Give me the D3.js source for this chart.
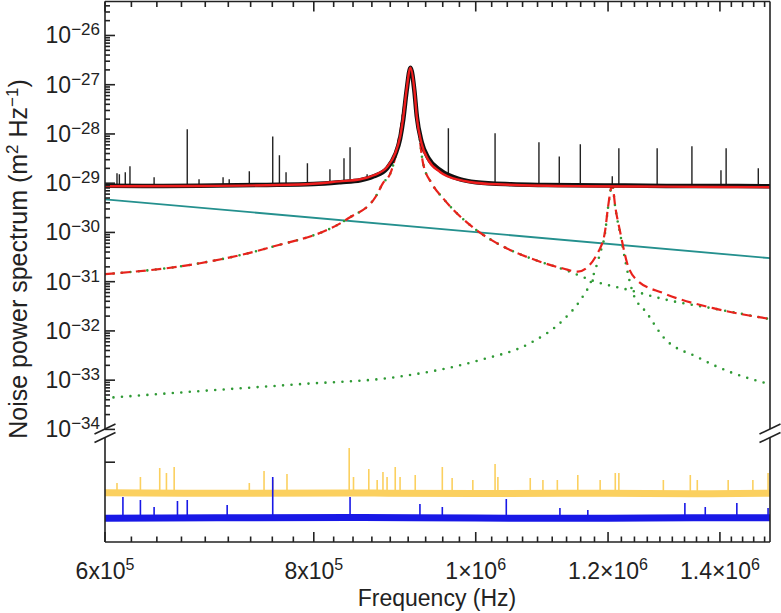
<!DOCTYPE html>
<html>
<head>
<meta charset="utf-8">
<script src="https://cdn.jsdelivr.net/npm/d3@7"></script>
<style>
  body { margin: 0; background: #fff; }
  svg { display: block; }
  text { font-family: "Liberation Sans", Arial, Helvetica, sans-serif; fill: #222; }
</style>
</head>
<body>
<svg id="chart" width="781" height="613"></svg>
<script>
// ---- data ----
// measured spectrum (black), smooth part
const measF = [6.0e5, 6.5e5, 7.0e5, 7.5e5, 8.0e5, 8.3e5, 8.53e5, 8.69e5, 8.85e5, 8.95e5, 9.01e5, 9.05e5, 9.09e5, 9.14e5, 9.19e5, 9.22e5, 9.28e5, 9.37e5, 9.52e5, 9.79e5, 1.0e6, 1.05e6, 1.1e6, 1.2e6, 1.3e6, 1.4e6, 1.5e6];
const measV = [8.9e-30, 8.8e-30, 9.0e-30, 9.2e-30, 9.6e-30, 1.05e-29, 1.15e-29, 1.38e-29, 2.0e-29, 3.8e-29, 8.0e-29, 2.0e-28, 7.2e-28, 2.2e-27, 7.4e-28, 2.3e-28, 7.0e-29, 3.2e-29, 1.85e-29, 1.2e-29, 1.05e-29, 9.5e-30, 9.2e-30, 9.0e-30, 8.8e-30, 8.8e-30, 8.7e-30];
// narrow peaks in the measured spectrum
const spikeF = [6.10e5, 6.12e5, 6.17e5, 6.21e5, 6.42e5, 6.72e5, 6.83e5, 7.06e5, 7.12e5, 7.32e5, 7.56e5, 7.63e5, 7.70e5, 7.93e5, 8.18e5, 8.34e5, 8.41e5, 8.61e5, 8.99e5, 9.55e5, 9.63e5, 1.027e6, 1.091e6, 1.122e6, 1.155e6, 1.207e6, 1.218e6, 1.284e6, 1.347e6, 1.402e6, 1.412e6, 1.476e6];
const spikeV = [1.59e-29, 1.52e-29, 1.66e-29, 2.2e-29, 1.32e-29, 1.24e-28, 1.2e-29, 1.32e-29, 1.2e-29, 1.74e-29, 8.9e-29, 3.7e-29, 1.66e-29, 2.54e-29, 1.91e-29, 3.2e-29, 5.35e-29, 1.52e-29, 8.5e-29, 1.74e-29, 1.3e-28, 1.03e-28, 6.8e-29, 3.5e-29, 6.2e-29, 1.38e-29, 5.1e-29, 5.1e-29, 5.6e-29, 1.83e-29, 5.1e-29, 2.0e-29];

// total fit (red solid)
const fitF = [6.0e5, 6.84e5, 7.85e5, 8.29e5, 8.53e5, 8.69e5, 8.85e5, 8.95e5, 9.01e5, 9.05e5, 9.09e5, 9.14e5, 9.19e5, 9.22e5, 9.28e5, 9.37e5, 9.52e5, 9.79e5, 9.92e5, 1.03e6, 1.155e6, 1.3e6, 1.5e6];
const fitV = [8.7e-30, 8.8e-30, 9.4e-30, 1.09e-29, 1.2e-29, 1.45e-29, 2.13e-29, 4.04e-29, 8.65e-29, 2.2e-28, 7.66e-28, 2.21e-27, 7.66e-28, 2.2e-28, 6.44e-29, 2.91e-29, 1.69e-29, 1.15e-29, 1.06e-29, 9.5e-30, 8.7e-30, 8.5e-30, 8.3e-30];

// mode 1 (green dotted)
const mode1F = [6.0e5, 6.84e5, 7.5e5, 8.39e5, 8.71e5, 8.80e5, 8.89e5, 8.97e5, 9.03e5, 9.09e5, 9.14e5, 9.19e5, 9.24e5, 9.30e5, 9.41e5, 9.56e5, 9.96e5, 1.03e6, 1.078e6, 1.128e6, 1.182e6, 1.237e6, 1.30e6, 1.387e6, 1.5e6];
const mode1V = [1.42e-31, 2.37e-31, 4.78e-31, 1.94e-30, 5.25e-30, 1.0e-29, 1.58e-29, 4.65e-29, 1.7e-28, 7.5e-28, 2.1e-27, 7.5e-28, 1.4e-28, 2.54e-29, 1.0e-29, 4.95e-30, 1.27e-30, 6.0e-31, 3.0e-31, 1.79e-31, 9.8e-32, 6.7e-32, 4.3e-32, 2.86e-32, 1.73e-32];

// mode 2 (green dotted)
const mode2F = [6.0e5, 6.84e5, 7.85e5, 8.97e5, 1.006e6, 1.078e6, 1.128e6, 1.155e6, 1.171e6, 1.187e6, 1.195e6, 1.200e6, 1.207e6, 1.212e6, 1.220e6, 1.242e6, 1.266e6, 1.295e6, 1.357e6, 1.420e6, 1.5e6];
const mode2V = [4.34e-34, 6.0e-34, 8.3e-34, 1.16e-33, 2.56e-33, 5.66e-33, 1.66e-32, 4.2e-32, 9.3e-32, 3.8e-31, 9.6e-31, 3.2e-30, 9.05e-30, 3.2e-30, 9.6e-31, 5.85e-32, 2.3e-32, 7.5e-33, 2.94e-33, 1.46e-33, 8.3e-34];

// both modes together (red dashed)
const modesF = [6.0e5, 6.84e5, 7.5e5, 8.39e5, 8.71e5, 8.80e5, 8.89e5, 8.97e5, 9.03e5, 9.09e5, 9.14e5, 9.19e5, 9.24e5, 9.30e5, 9.41e5, 9.56e5, 9.96e5, 1.03e6, 1.078e6, 1.128e6, 1.151e6, 1.187e6, 1.195e6, 1.200e6, 1.207e6, 1.212e6, 1.220e6, 1.232e6, 1.249e6, 1.295e6, 1.387e6, 1.5e6];
const modesV = [1.42e-31, 2.37e-31, 4.78e-31, 1.94e-30, 5.25e-30, 1.0e-29, 1.58e-29, 4.65e-29, 1.7e-28, 7.5e-28, 2.1e-27, 7.5e-28, 1.4e-28, 2.54e-29, 1.0e-29, 4.95e-30, 1.27e-30, 6.0e-31, 3.0e-31, 1.85e-31, 1.6e-31, 4.8e-31, 1.05e-30, 3.3e-30, 9.1e-30, 3.3e-30, 1.05e-30, 2.37e-31, 1.07e-31, 5.85e-32, 2.9e-32, 1.75e-32];

// background (teal)
const bgF = [6.0e5, 1.5e6];
const bgV = [4.7e-30, 3.0e-31];

// lower panel (arbitrary units)
const yellowF = [6.0e5, 7.0e5, 8.4e5, 1.0e6, 1.2e6, 1.35e6, 1.5e6];
const yellowV = [46.8, 46.4, 46.6, 46.2, 46.5, 46.0, 46.4];
const yellowSpikeF = [6.10e5, 6.30e5, 6.47e5, 6.53e5, 6.60e5, 7.32e5, 7.47e5, 7.56e5, 7.71e5, 8.40e5, 8.45e5, 8.63e5, 8.73e5, 8.80e5, 8.85e5, 8.95e5, 9.01e5, 9.20e5, 9.55e5, 9.68e5, 9.96e5, 1.027e6, 1.031e6, 1.078e6, 1.097e6, 1.119e6, 1.151e6, 1.187e6, 1.212e6, 1.218e6, 1.295e6, 1.344e6, 1.357e6, 1.416e6, 1.465e6, 1.496e6];
const yellowSpikeV = [56.2, 61.9, 70.5, 65.7, 71.4, 56.2, 67.6, 59.0, 64.8, 89.5, 61.9, 69.5, 59.0, 66.7, 61.9, 71.4, 61.9, 63.8, 71.4, 61.0, 59.0, 74.3, 61.9, 61.0, 59.0, 59.0, 63.8, 59.0, 65.7, 65.7, 59.0, 63.8, 59.0, 59.0, 59.0, 65.7];
const blueF = [6.0e5, 7.0e5, 8.4e5, 1.0e6, 1.2e6, 1.35e6, 1.5e6];
const blueV = [22.6, 23.0, 23.4, 22.8, 22.6, 23.0, 23.2];
const blueSpikeF = [6.15e5, 6.30e5, 6.42e5, 6.63e5, 6.72e5, 7.10e5, 7.56e5, 8.41e5, 9.26e5, 9.55e5, 1.043e6, 1.123e6, 1.167e6, 1.334e6, 1.372e6, 1.433e6, 1.496e6];
const blueSpikeV = [42.9, 40.0, 33.3, 39.0, 40.0, 35.2, 61.9, 42.9, 36.2, 33.3, 41.0, 32.4, 30.5, 37.1, 33.3, 37.1, 32.4];

// ticks
const xMajor = [6e5, 8e5, 1e6, 1.2e6, 1.4e6];
const xMajorBase = ["6x10", "8x10", "1\u00d710", "1.2\u00d710", "1.4\u00d710"];
const xMajorExp = ["5", "5", "6", "6", "6"];
const yDecades = [-26, -27, -28, -29, -30, -31, -32, -33, -34];

// ---- layout ----
const pLeft = 105, pRight = 770, pTop = 1.5, pBottom = 542;
const breakTop = 429, breakBot = 437.5;

const svg = d3.select("#chart");

const x = d3.scaleLog().domain([6e5, 1.5e6]).range([pLeft, pRight]);
const y = d3.scaleLog().domain([1e-34, Math.pow(10, -25.31)]).range([429.4, pTop]);
const y2 = d3.scaleLinear().domain([0, 100]).range([pBottom, 437]);

const defs = svg.append("defs");
defs.append("clipPath").attr("id", "upper")
  .append("rect").attr("x", pLeft).attr("y", pTop).attr("width", pRight - pLeft).attr("height", breakTop - pTop);
defs.append("clipPath").attr("id", "lower")
  .append("rect").attr("x", pLeft).attr("y", breakBot).attr("width", pRight - pLeft).attr("height", pBottom - breakBot);

const up = svg.append("g").attr("clip-path", "url(#upper)");
const low = svg.append("g").attr("clip-path", "url(#lower)");

const line = d3.line().x(d => x(d[0])).y(d => y(d[1])).curve(d3.curveMonotoneX);
const line2 = d3.line().x(d => x(d[0])).y(d => y2(d[1])).curve(d3.curveMonotoneX);

// background
up.append("path").datum(d3.zip(bgF, bgV)).attr("d", line)
  .attr("fill", "none").attr("stroke", "#24908e").attr("stroke-width", 1.8);

// single modes, dotted
[[mode1F, mode1V], [mode2F, mode2V]].forEach(([f, v]) => {
  up.append("path").datum(d3.zip(f, v)).attr("d", line)
    .attr("fill", "none").attr("stroke", "#2f9a35").attr("stroke-width", 2.6)
    .attr("stroke-linecap", "round").attr("stroke-dasharray", "0,8.5");
});

// modes together, dashed
up.append("path").datum(d3.zip(modesF, modesV)).attr("d", line)
  .attr("fill", "none").attr("stroke", "#e8221c").attr("stroke-width", 2.2)
  .attr("stroke-dasharray", "10,5.5");

// measured
const baseLog = d3.scaleLog().domain(measF).range(measV.map(v => Math.log10(v)));
up.selectAll("line.spike").data(d3.zip(spikeF, spikeV)).join("line")
  .attr("class", "spike")
  .attr("x1", d => x(d[0])).attr("x2", d => x(d[0]))
  .attr("y1", d => y(Math.pow(10, baseLog(d[0])))).attr("y2", d => y(d[1]))
  .attr("stroke", "#222").attr("stroke-width", 1.4);
up.append("path").datum(d3.zip(measF, measV)).attr("d", line)
  .attr("fill", "none").attr("stroke", "#111").attr("stroke-width", 4.5);

// fit
up.append("path").datum(d3.zip(fitF, fitV)).attr("d", line)
  .attr("fill", "none").attr("stroke", "#ee1d1d").attr("stroke-width", 2.4);

// lower traces
function trace(f, v, sf, sv, color) {
  const bl = d3.scaleLog().domain(f).range(v);
  low.selectAll(null).data(d3.zip(sf, sv)).join("line")
    .attr("x1", d => x(d[0])).attr("x2", d => x(d[0]))
    .attr("y1", d => y2(bl(d[0]))).attr("y2", d => y2(d[1]))
    .attr("stroke", color).attr("stroke-width", 1.6);
  low.append("path").datum(d3.zip(f, v)).attr("d", line2)
    .attr("fill", "none").attr("stroke", color).attr("stroke-width", 7);
}
trace(yellowF, yellowV, yellowSpikeF, yellowSpikeV, "#fbd05f");
trace(blueF, blueV, blueSpikeF, blueSpikeV, "#1818e6");

// ---- axes ----
const ax = svg.append("g").attr("stroke", "#222").attr("stroke-width", 1.6).attr("fill", "none");

// frame with breaks
ax.append("line").attr("x1", pLeft).attr("x2", pRight).attr("y1", pTop).attr("y2", pTop);
ax.append("line").attr("x1", pLeft).attr("x2", pRight).attr("y1", pBottom).attr("y2", pBottom);
[pLeft, pRight].forEach(xx => {
  ax.append("line").attr("x1", xx).attr("x2", xx).attr("y1", pTop).attr("y2", breakTop);
  ax.append("line").attr("x1", xx).attr("x2", xx).attr("y1", breakBot).attr("y2", pBottom);
  [breakTop, breakBot].forEach(yb => {
    ax.append("line").attr("x1", xx - 10.5).attr("y1", yb + 5).attr("x2", xx + 10.5).attr("y2", yb - 5);
  });
});

// x ticks (top and bottom, inward)
const xMinor = [];
xMajor.forEach(a => {
  for (let j = 1; j <= 8; j++) {
    const t = a + j * 2e5 / 9;
    if (t < 1.5e6) xMinor.push(t);
  }
});
[[xMinor, 5.5], [xMajor, 10]].forEach(([vals, len]) => {
  vals.forEach(t => {
    const px = x(t);
    ax.append("line").attr("x1", px).attr("x2", px).attr("y1", pBottom).attr("y2", pBottom - len);
    ax.append("line").attr("x1", px).attr("x2", px).attr("y1", pTop).attr("y2", pTop + len);
  });
});

// y ticks (left, inward)
yDecades.forEach(n => {
  for (let k = 1; k <= 9; k++) {
    const v = k * Math.pow(10, n);
    if (v > y.domain()[1]) continue;
    const py = y(v);
    ax.append("line").attr("x1", pLeft).attr("x2", pLeft + (k === 1 ? 10 : 5)).attr("y1", py).attr("y2", py);
  }
});
ax.append("line").attr("x1", pLeft).attr("x2", pLeft + 10).attr("y1", y2(76)).attr("y2", y2(76));

// labels
const lab = svg.append("g").attr("font-size", 23);
xMajor.forEach((t, i) => {
  const tx = lab.append("text").attr("x", x(t)).attr("y", 579).attr("text-anchor", "middle");
  tx.append("tspan").text(xMajorBase[i]);
  tx.append("tspan").attr("dy", -9).attr("font-size", 16).text(xMajorExp[i]);
});
yDecades.forEach(n => {
  const tx = lab.append("text").attr("x", 100).attr("y", y(Math.pow(10, n)) + 8).attr("text-anchor", "end");
  tx.append("tspan").text("10");
  tx.append("tspan").attr("dy", -8).attr("font-size", 17).text("\u2212" + Math.abs(n));
});

lab.append("text").attr("x", 437).attr("y", 606).attr("text-anchor", "middle").text("Frequency (Hz)");

const yt = lab.append("text").attr("transform", "translate(27,259) rotate(-90)")
  .attr("text-anchor", "middle").attr("font-size", 25);
yt.append("tspan").text("Noise power spectrum (m");
yt.append("tspan").attr("dy", -9).attr("font-size", 17).text("2");
yt.append("tspan").attr("dy", 9).text(" Hz");
yt.append("tspan").attr("dy", -9).attr("font-size", 17).text("\u22121");
yt.append("tspan").attr("dy", 9).text(")");
</script>
</body>
</html>
